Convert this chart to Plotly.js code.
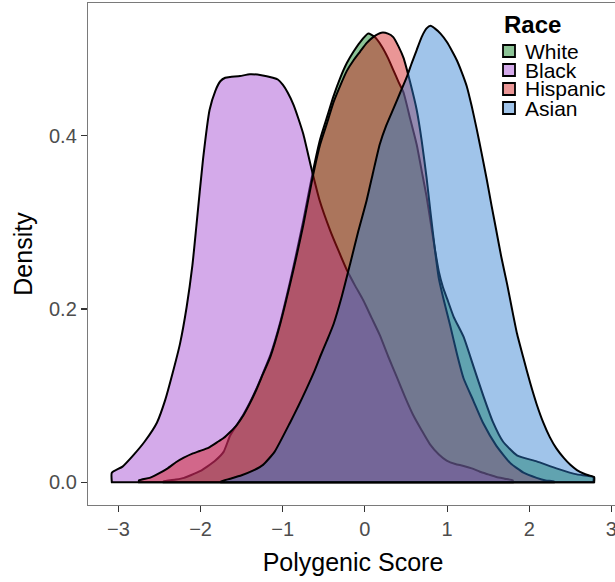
<!DOCTYPE html>
<html>
<head>
<meta charset="utf-8">
<script src="https://cdn.plot.ly/plotly-3.0.1.min.js"></script>
<style>
  html, body { margin: 0; padding: 0; background: #ffffff; overflow: hidden; width: 615px; height: 582px; }
  #chart { width: 640px; height: 582px; }
</style>
</head>
<body>
<div id="chart"></div>
<script>
// ---- data (Polygenic Score vs density) ----
const groups = ["White", "Black", "Hispanic", "Asian"];
const fillColors = ["rgba(0,122,22,0.45)", "rgba(159,66,208,0.45)", "rgba(208,22,22,0.45)", "rgba(44,124,208,0.45)"];
const keyColors = ["#8cc396", "#d4aaea", "#ea9696", "#a0c4ea"];

const xWhite = [-2.45, -2.3, -2.2, -2.12, -2.0, -1.92, -1.82, -1.72, -1.64, -1.56, -1.48, -1.40, -1.32, -1.24, -1.15, -1.03, -0.91, -0.83, -0.75, -0.63, -0.545, -0.45, -0.385, -0.3, -0.22, -0.14, -0.06, 0.04, 0.12, 0.2, 0.28, 0.35, 0.41, 0.47, 0.55, 0.63, 0.7, 0.75, 0.8, 0.85, 0.9, 0.95, 1.0, 1.08, 1.2, 1.32, 1.44, 1.56, 1.68, 1.85, 2.09, 2.33, 2.58, 2.78];
const dWhite = [0.001, 0.003, 0.005, 0.008, 0.013, 0.018, 0.025, 0.035, 0.054, 0.066, 0.078, 0.092, 0.108, 0.126, 0.147, 0.185, 0.232, 0.266, 0.302, 0.36, 0.396, 0.425, 0.445, 0.467, 0.484, 0.497, 0.508, 0.518, 0.514, 0.504, 0.49, 0.475, 0.462, 0.45, 0.42, 0.39, 0.355, 0.33, 0.3, 0.27, 0.243, 0.225, 0.212, 0.191, 0.168, 0.134, 0.10, 0.069, 0.047, 0.031, 0.024, 0.016, 0.009, 0.006];

const xBlack = [-3.08, -2.95, -2.82, -2.68, -2.53, -2.43, -2.34, -2.25, -2.17, -2.10, -2.05, -1.97, -1.89, -1.82, -1.76, -1.70, -1.64, -1.52, -1.40, -1.26, -1.12, -1.06, -1.00, -0.94, -0.87, -0.81, -0.75, -0.65, -0.55, -0.42, -0.32, -0.22, -0.12, -0.02, 0.08, 0.18, 0.28, 0.39, 0.49, 0.59, 0.69, 0.79, 0.9, 0.995, 1.1, 1.19, 1.3, 1.40, 1.5, 1.60, 1.70, 1.8];
const dBlack = [0.011, 0.018, 0.031, 0.047, 0.069, 0.095, 0.126, 0.16, 0.202, 0.25, 0.297, 0.373, 0.43, 0.452, 0.463, 0.467, 0.468, 0.469, 0.471, 0.470, 0.467, 0.465, 0.459, 0.45, 0.436, 0.42, 0.402, 0.362, 0.325, 0.29, 0.267, 0.245, 0.227, 0.21, 0.19, 0.17, 0.146, 0.121, 0.098, 0.077, 0.06, 0.044, 0.032, 0.025, 0.021, 0.019, 0.016, 0.012, 0.009, 0.006, 0.004, 0.002];

const xHispanic = [-2.75, -2.62, -2.53, -2.4, -2.3, -2.21, -2.1, -2.01, -1.9, -1.8, -1.72, -1.64, -1.56, -1.48, -1.40, -1.32, -1.24, -1.15, -1.03, -0.91, -0.83, -0.75, -0.63, -0.545, -0.45, -0.385, -0.3, -0.22, -0.14, -0.06, 0.02, 0.1, 0.2, 0.28, 0.345, 0.41, 0.47, 0.55, 0.63, 0.69, 0.75, 0.8, 0.85, 0.9, 0.955, 1.04, 1.12, 1.2, 1.32, 1.44, 1.6, 1.77, 1.93, 2.09, 2.2, 2.3];
const dHispanic = [0.002, 0.005, 0.009, 0.016, 0.023, 0.028, 0.033, 0.036, 0.04, 0.046, 0.051, 0.058, 0.066, 0.077, 0.091, 0.107, 0.125, 0.145, 0.183, 0.229, 0.262, 0.297, 0.355, 0.39, 0.418, 0.438, 0.458, 0.475, 0.487, 0.497, 0.507, 0.514, 0.519, 0.518, 0.514, 0.503, 0.49, 0.462, 0.43, 0.395, 0.352, 0.31, 0.27, 0.235, 0.212, 0.18, 0.148, 0.12, 0.094, 0.068, 0.042, 0.022, 0.011, 0.005, 0.002, 0.001];

const xAsian = [-1.75, -1.64, -1.5, -1.37, -1.24, -1.1, -0.91, -0.81, -0.71, -0.62, -0.54, -0.46, -0.38, -0.28, -0.18, -0.08, 0.02, 0.1, 0.18, 0.26, 0.35, 0.43, 0.51, 0.57, 0.63, 0.69, 0.75, 0.8, 0.85, 0.92, 1.0, 1.06, 1.12, 1.18, 1.24, 1.3, 1.36, 1.42, 1.48, 1.54, 1.6, 1.66, 1.73, 1.79, 1.85, 1.93, 2.01, 2.09, 2.17, 2.25, 2.33, 2.42, 2.5, 2.58, 2.66, 2.72, 2.79];
const dAsian = [0.001, 0.004, 0.008, 0.013, 0.02, 0.035, 0.069, 0.088, 0.108, 0.127, 0.146, 0.164, 0.183, 0.215, 0.252, 0.29, 0.325, 0.358, 0.39, 0.412, 0.432, 0.45, 0.468, 0.484, 0.499, 0.514, 0.524, 0.527, 0.524, 0.518, 0.508, 0.498, 0.487, 0.473, 0.457, 0.434, 0.408, 0.38, 0.351, 0.32, 0.29, 0.26, 0.229, 0.2, 0.172, 0.143, 0.115, 0.09, 0.069, 0.052, 0.039, 0.028, 0.02, 0.014, 0.01, 0.008, 0.006];

const xTicks = [-3, -2, -1, 0, 1, 2, 3];
const yTicks = [0.0, 0.2, 0.4];
const yTickText = ["0.0", "0.2", "0.4"];

// ---- build closed density polygons ----
const seriesX = [xWhite, xBlack, xHispanic, xAsian];
const seriesD = [dWhite, dBlack, dHispanic, dAsian];
const FONT = "Liberation Sans, Arial, Helvetica, sans-serif";

const traces = groups.map((g, i) => {
  const xs = seriesX[i], ds = seriesD[i];
  const n = xs.length;
  return {
    type: "scatter",
    mode: "lines",
    name: g,
    x: [xs[0], xs[0]].concat(xs, [xs[n - 1], xs[n - 1], xs[0], xs[0]]),
    y: [0, 0].concat(ds, [0, 0, 0, 0]),
    fill: "toself",
    fillcolor: fillColors[i],
    line: { color: "#000000", width: 2, shape: "spline", smoothing: 0.5 },
    hoverinfo: "skip",
    showlegend: false
  };
});

// ---- hand-made legend (ggplot style) ----
const W = 640, H = 582;
const ml = 88, mr = 22, mt = 3, mb = 77;
const pw = W - ml - mr, ph = H - mt - mb;
const px = v => (v - ml) / pw;
const py = v => (H - mb - v) / ph;

const annotations = [{
  text: "<b>Race</b>", xref: "paper", yref: "paper",
  x: px(502), y: py(25), xanchor: "left", yanchor: "middle",
  showarrow: false, font: { family: FONT, size: 24, color: "#000" }
}];
const shapes = [];
const legendY = [51, 70, 89, 108];
groups.forEach((g, i) => {
  annotations.push({
    text: g, xref: "paper", yref: "paper",
    x: px(523), y: py(legendY[i]), xanchor: "left", yanchor: "middle",
    showarrow: false, font: { family: FONT, size: 21, color: "#000" }
  });
  shapes.push({
    type: "rect", xref: "paper", yref: "paper",
    x0: px(503), x1: px(515), y0: py(legendY[i] - 6), y1: py(legendY[i] + 6),
    fillcolor: keyColors[i], line: { color: "#000", width: 1.8 }
  });
});

const layout = {
  width: W, height: H,
  margin: { l: ml, r: mr, t: mt, b: mb, pad: 0 },
  paper_bgcolor: "#ffffff", plot_bgcolor: "#ffffff",
  font: { family: FONT, color: "#000" },
  xaxis: {
    range: [-3.37, 3.08],
    tickvals: xTicks,
    ticks: "outside", ticklen: 6, tickwidth: 1.1, tickcolor: "#333333",
    tickfont: { family: FONT, size: 20, color: "#4d4d4d" },
    showgrid: false, zeroline: false,
    showline: true, linecolor: "#7a7a7a", linewidth: 1.2, mirror: true,
    title: { text: "Polygenic Score", font: { family: FONT, size: 25, color: "#000" }, standoff: 14 },
    automargin: false
  },
  yaxis: {
    range: [-0.02635, 0.55335],
    tickvals: yTicks, ticktext: yTickText,
    ticks: "outside", ticklen: 6, tickwidth: 1.1, tickcolor: "#333333",
    tickfont: { family: FONT, size: 20, color: "#4d4d4d" },
    showgrid: false, zeroline: false,
    showline: true, linecolor: "#7a7a7a", linewidth: 1.2, mirror: true,
    title: { text: "Density", font: { family: FONT, size: 25, color: "#000" }, standoff: 9 },
    automargin: false
  },
  annotations: annotations,
  shapes: shapes,
  showlegend: false
};

Plotly.newPlot("chart", traces, layout, { staticPlot: true, displayModeBar: false });
</script>
</body>
</html>
